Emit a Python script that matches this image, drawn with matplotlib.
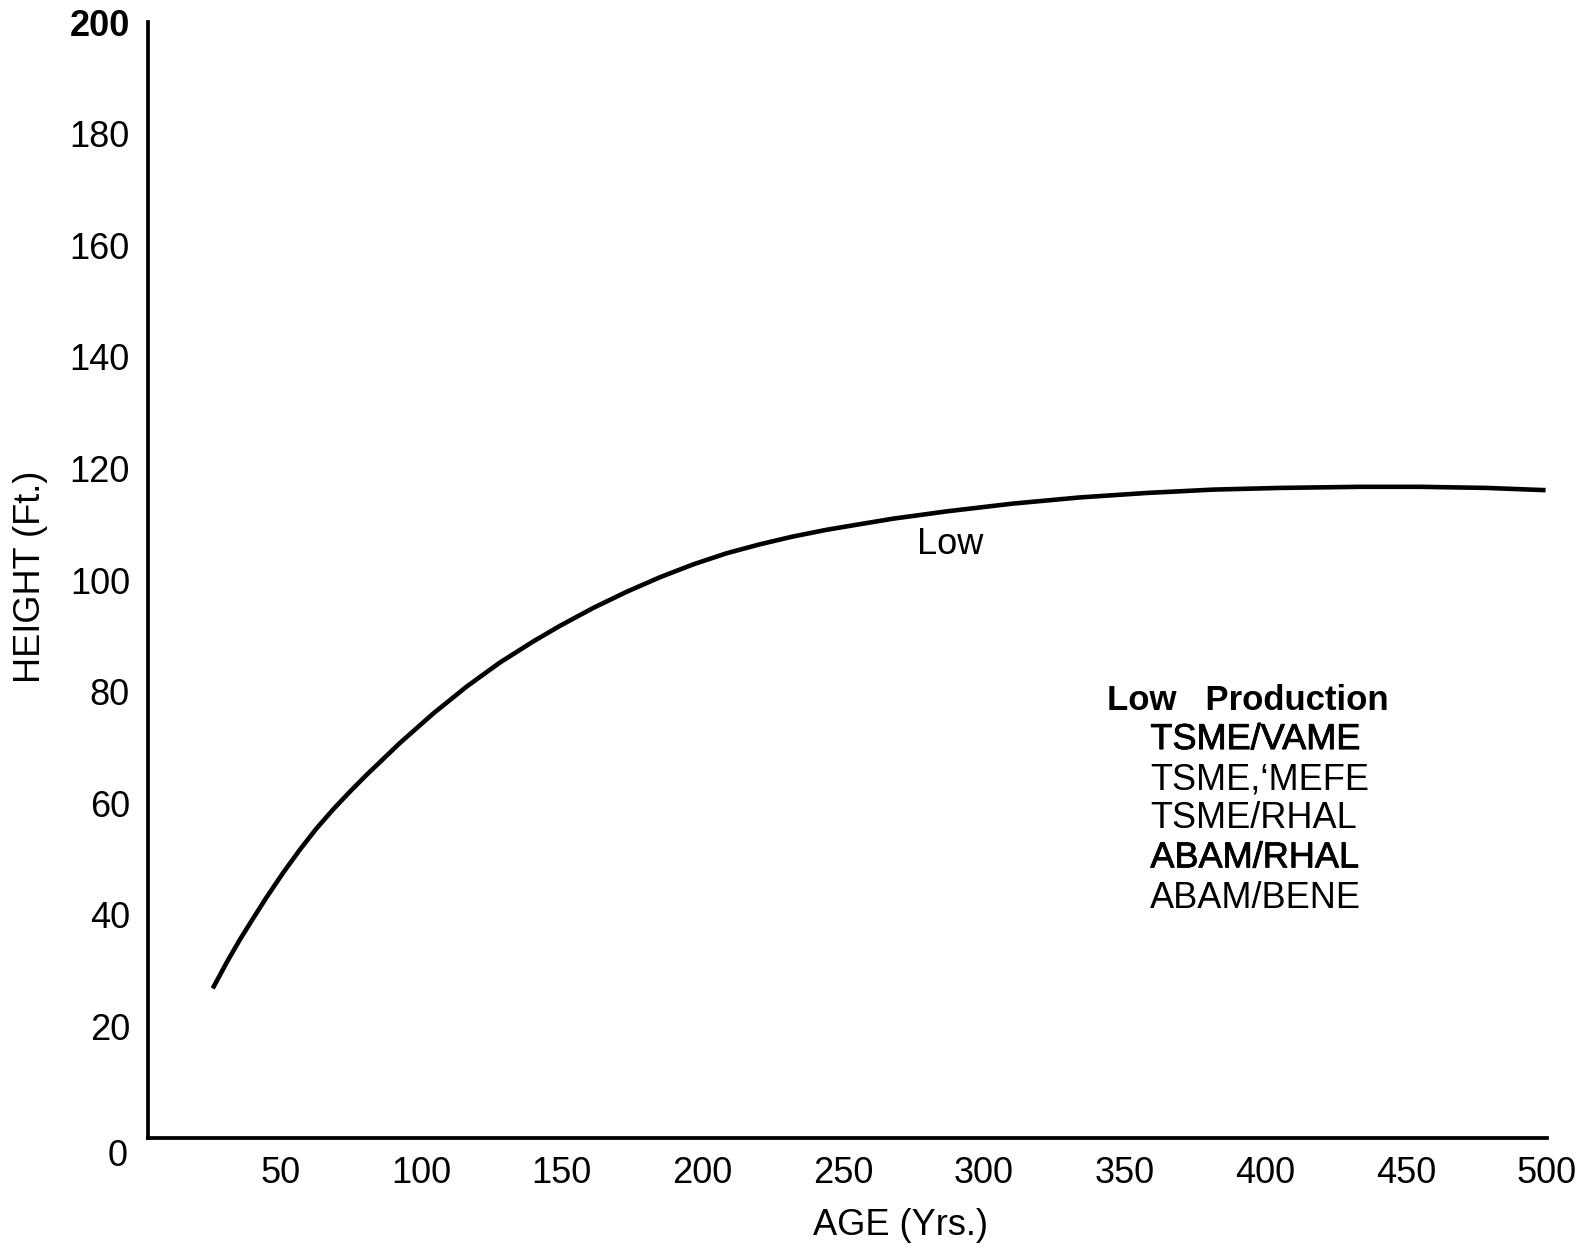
import matplotlib
matplotlib.use('Agg')
import matplotlib.pyplot as plt
import matplotlib.patheffects as pe
from matplotlib import font_manager

# site curve
age = [26.0, 31.0, 35.7, 40.4, 45.2, 51.1, 57.0, 62.9, 68.8, 74.8, 80.7,
       92.5, 104.4, 116.2, 128.0, 139.9, 149.4, 161.2, 173.1, 184.9, 196.7,
       208.6, 220.4, 232.2, 244.1, 255.9, 267.8, 276.6, 286.7, 310.4, 334.1,
       357.8, 381.4, 405.1, 433.5, 454.9, 478.6, 499.5]
height = [26.8, 31.5, 35.6, 39.4, 43.2, 47.6, 51.7, 55.5, 58.9, 62.1, 65.1,
          70.8, 76.1, 80.9, 85.2, 89.0, 91.8, 95.0, 97.9, 100.5, 102.8,
          104.8, 106.4, 107.8, 109.0, 110.0, 111.0, 111.6, 112.3, 113.7, 114.8,
          115.6, 116.2, 116.5, 116.7, 116.7, 116.5, 116.1]

x_ticks = [50, 100, 150, 200, 250, 300, 350, 400, 450, 500]
y_ticks = [20, 40, 60, 80, 100, 120, 140, 160, 180, 200]

curve_label = 'Low'
block_title = 'Low   Production'
block_lines = ['TSME/VAME', 'TSME,\u2018MEFE', 'TSME/RHAL', 'ABAM/RHAL', 'ABAM/BENE']
heavy_lines = ['TSME/VAME', 'ABAM/RHAL']

# condensed face if it is there, plain Liberation otherwise
names = {f.name for f in font_manager.fontManager.ttflist}
if 'Liberation Sans Narrow' in names:
    family = 'Liberation Sans Narrow'
    fs = 28
else:
    family = 'Liberation Sans'
    fs = 26
plt.rcParams['font.family'] = family

fig = plt.figure(figsize=(15.87, 12.51), dpi=100)
ax = fig.add_axes([148 / 1587, 113 / 1251, 1399 / 1587, 1116 / 1251])

ax.plot(age, height, color='black', lw=3.3, solid_capstyle='butt',
        solid_joinstyle='round')

ax.set_xlim(3, 500)
ax.set_ylim(0, 200)

for spine in ['top', 'right']:
    ax.spines[spine].set_visible(False)
for spine in ['left', 'bottom']:
    ax.spines[spine].set_linewidth(2.7)

ax.set_xticks(x_ticks)
ax.set_yticks(y_ticks)
ax.tick_params(axis='both', length=0, labelsize=fs)
ax.tick_params(axis='x', pad=13)
ax.tick_params(axis='y', pad=13)
ax.get_yticklabels()[-1].set_fontweight('bold')

# the zero sits below the corner, as in the original
ax.annotate('0', xy=(0, 0), xycoords='axes fraction', xytext=(-22, -13),
            textcoords='offset points', ha='center', va='center', fontsize=fs)

ax.set_ylabel('HEIGHT (Ft.)', fontsize=fs)
ax.yaxis.label.set(ha='center', va='center', rotation_mode='anchor')
ax.yaxis.set_label_coords(-0.0843, 0.503)
ax.set_xlabel('AGE (Yrs.)', fontsize=fs)
ax.xaxis.label.set(ha='center', va='center')
ax.xaxis.set_label_coords(0.538, -0.078)

ax.text(287.9, 106.3, curve_label, fontsize=fs, ha='center', va='center')

ax.text(0.786, 0.392, block_title, transform=ax.transAxes, fontsize=fs - 1,
        fontweight='bold', ha='center', va='center')
line_y = [0.357, 0.321, 0.286, 0.251, 0.215]
for txt, yy in zip(block_lines, line_y):
    t = ax.text(0.7165, yy, txt, transform=ax.transAxes, fontsize=fs,
                ha='left', va='center')
    if txt in heavy_lines:
        t.set_path_effects([pe.withStroke(linewidth=0.6, foreground='black')])

fig.savefig('out.png', dpi=100, facecolor='white')
